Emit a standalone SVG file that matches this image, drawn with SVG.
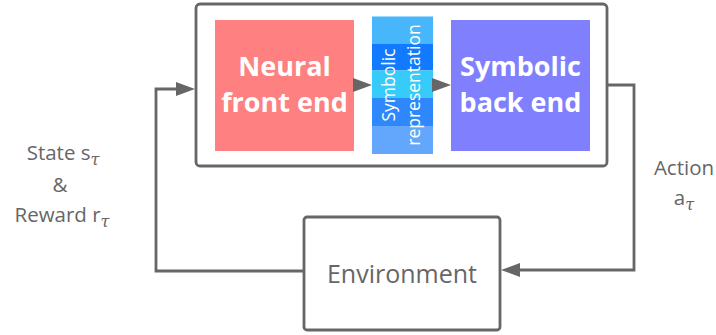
<svg xmlns="http://www.w3.org/2000/svg" width="716" height="335" viewBox="0 0 716 335">
  <defs>
    <style>
      .frame { fill: #ffffff; stroke: #666666; stroke-width: 2.8; }
      .wire { fill: none; stroke: #666666; stroke-width: 2.8; }
      .head { fill: #666666; }
      .title { font-family: "Open Sans", "Liberation Sans", sans-serif; font-weight: 700; font-size: 27px; fill: #ffffff; text-anchor: middle; }
      .vert { font-family: "Open Sans", "Liberation Sans", sans-serif; font-weight: 500; font-size: 17.5px; fill: #ffffff; text-anchor: middle; }
      .label { font-family: "Open Sans", "Liberation Sans", sans-serif; font-size: 20.5px; fill: #666666; text-anchor: middle; }
      .env { font-family: "Open Sans", "Liberation Sans", sans-serif; font-size: 25px; fill: #666666; text-anchor: middle; }
      .sub { font-family: "DejaVu Serif", "Liberation Serif", serif; font-style: italic; font-size: 16px; }
    </style>
  </defs>

  <!-- agent frame -->
  <g id="agent">
    <rect class="frame" x="196" y="4" width="411" height="162" rx="4"/>
  </g>

  <g id="neural-front-end">
    <rect x="215" y="20" width="139" height="131" fill="#ff8080"/>
    <text class="title" x="284.5" y="76">Neural</text>
    <text class="title" x="284.5" y="112">front end</text>
  </g>

  <g id="symbolic-representation">
    <rect x="372" y="16.5" width="61" height="27" fill="#47b6fb"/>
    <rect x="372" y="43.5" width="61" height="27" fill="#117aff"/>
    <rect x="372" y="70.5" width="61" height="27" fill="#36cbf9"/>
    <rect x="372" y="97.5" width="61" height="28.5" fill="#2e88fc"/>
    <rect x="372" y="126" width="61" height="28" fill="#62a7fb"/>
    <g transform="translate(402.5,85) rotate(-90)">
      <text class="vert" x="0" y="-8">Symbolic</text>
      <text class="vert" x="0" y="17">representation</text>
    </g>
  </g>

  <g id="symbolic-back-end">
    <rect x="451" y="20" width="139" height="131" fill="#8080ff"/>
    <text class="title" x="520.5" y="76">Symbolic</text>
    <text class="title" x="520.5" y="112">back end</text>
  </g>

  <g id="environment">
    <rect class="frame" x="304" y="217" width="196" height="113" rx="3"/>
    <text class="env" x="402" y="283">Environment</text>
  </g>

  <g id="connectors">
    <!-- inner flow -->
    <polygon class="head" points="353,78 372,85 353,92"/>
    <polygon class="head" points="432,78 451,85 432,92"/>
    <!-- observation feedback -->
    <path class="wire" d="M304,271 H156 V89 H178"/>
    <polygon class="head" points="176,82 195,89 176,96"/>
    <!-- action -->
    <path class="wire" d="M607,85 H634 V270 H518"/>
    <polygon class="head" points="520,263 501,270 520,277"/>
  </g>

  <g id="labels">
    <text class="label" x="63" y="160">State s<tspan class="sub" dy="5">τ</tspan></text>
    <text class="label" x="60" y="192">&amp;</text>
    <text class="label" x="62" y="222">Reward r<tspan class="sub" dy="5">τ</tspan></text>
    <text class="label" x="684" y="175">Action</text>
    <text class="label" x="684" y="205">a<tspan class="sub" dy="5">τ</tspan></text>
  </g>
</svg>
